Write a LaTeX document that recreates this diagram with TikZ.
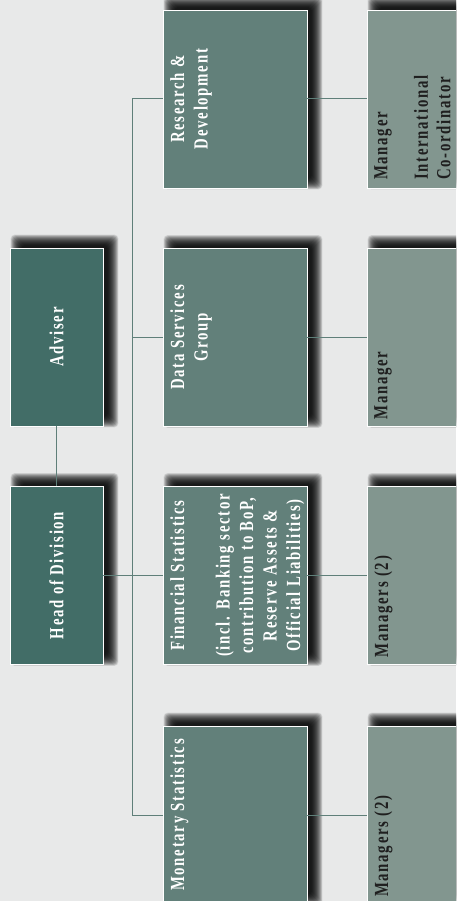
\documentclass[tikz,border=0pt]{standalone}
\usepackage{fontspec}
\newfontfamily\boxfont[FakeStretch=0.74,LetterSpace=8.5]{Liberation Serif}
\definecolor{bgc}{HTML}{E8E9E9}
\definecolor{topc}{HTML}{426D67}
\definecolor{midc}{HTML}{62807A}
\definecolor{mgrc}{HTML}{82968F}
\definecolor{linec}{HTML}{5F7F79}
\definecolor{darktxt}{HTML}{1F1F1F}
\begin{document}
\begin{tikzpicture}[x=1pt,y=-1pt,
  box/.style={draw=white, line width=0.8pt, inner sep=0pt, minimum height=178pt},
  topbox/.style={box, fill=topc, minimum width=93pt},
  midbox/.style={box, fill=midc, minimum width=144pt},
  mgrbox/.style={box, fill=mgrc, minimum width=144pt},
  shadowlayer/.style={fill=black, opacity=0.085, rounded corners=4pt},
  boxtxt/.style={rotate=90, inner sep=0pt, font=\boxfont\bfseries\fontsize{20}{23.5}\selectfont},
  ctxt/.style={boxtxt, text=white, align=center},
  ltxt/.style={boxtxt, text=darktxt, align=left, anchor=north west,
    font=\boxfont\bfseries\fontsize{20}{22.5}\selectfont},
  conn/.style={draw=linec, line width=1pt}]
\useasboundingbox (0,0) rectangle (456,901);
\clip (0,0) rectangle (456,901);
\fill[bgc] (0,0) rectangle (456,901);

% boxes (placed first as invisible shapes for the shadows)
\path (56.5,337) node[topbox, draw=none, fill=none] (adv) {}
      (56.5,575.5) node[topbox, draw=none, fill=none] (head) {}
      (235,99) node[midbox, draw=none, fill=none] (rd) {}
      (235,337.5) node[midbox, draw=none, fill=none] (ds) {}
      (235,575.5) node[midbox, draw=none, fill=none] (fs) {}
      (235,815) node[midbox, draw=none, fill=none] (ms) {}
      (439,99) node[mgrbox, draw=none, fill=none] (m1) {}
      (439,337.5) node[mgrbox, draw=none, fill=none] (m2) {}
      (439,575.5) node[mgrbox, draw=none, fill=none] (m3) {}
      (439,815) node[mgrbox, draw=none, fill=none] (m4) {};

% drop shadows
\foreach \n in {adv,head,rd,ds,fs,ms,m1,m2,m3,m4}{
  \foreach \r in {7,6.5,...,-4}{
    \fill[shadowlayer] ([xshift={(8-(\r))*1pt},yshift={(6-(\r))*1pt}]\n.south west)
      rectangle ([xshift={(8+(\r))*1pt},yshift={(6+(\r))*1pt}]\n.north east);
  }
}

% visible boxes
\node[topbox] (advb) at (adv) {};
\node[topbox] (headb) at (head) {};
\node[midbox] (rdb) at (rd) {};
\node[midbox] (dsb) at (ds) {};
\node[midbox] (fsb) at (fs) {};
\node[midbox] (msb) at (ms) {};
\node[mgrbox] (m1b) at (m1) {};
\node[mgrbox] (m2b) at (m2) {};
\node[mgrbox] (m3b) at (m3) {};
\node[mgrbox] (m4b) at (m4) {};

% connectors
\draw[conn] (advb.south) -- (headb.north);
\draw[conn] (rdb.west) -- ++(-30pt,0) coordinate (sptop) |- (msb.west);
\draw[conn] (dsb.west) -- ++(-30pt,0);
\draw[conn] (headb.east) -- (fsb.west);
\draw[conn] (rdb.east) -- (m1b.west);
\draw[conn] (dsb.east) -- (m2b.west);
\draw[conn] (fsb.east) -- (m3b.west);
\draw[conn] (msb.east) -- (m4b.west);

% texts
\node[ctxt] (advt) at (advb.center) {Adviser};
\node[ctxt] (headt) at (headb.center) {Head of Division};
\node[ctxt, anchor=north] (rdt) at (170,99) {Research \&\\Development};
\node[ctxt, anchor=north] (dst) at (170,337.5) {Data Services\\Group};
\node[ctxt, anchor=north] (fst) at (170,575.5) {Financial Statistics\\[22pt](incl. Banking sector\\contribution to BoP,\\Reserve Assets \&\\Official Liabilities)};
\node[ctxt, anchor=north] (mst) at (170,815) {Monetary Statistics};
\node[ltxt] (m1t) at (374,180) {Manager\\[18pt]International\\Co-ordinator};
\node[ltxt] (m2t) at (374,419.5) {Manager};
\node[ltxt] (m3t) at (374,657.5) {Managers (2)};
\node[ltxt] (m4t) at (374,897) {Managers (2)};
\end{tikzpicture}
\end{document}
